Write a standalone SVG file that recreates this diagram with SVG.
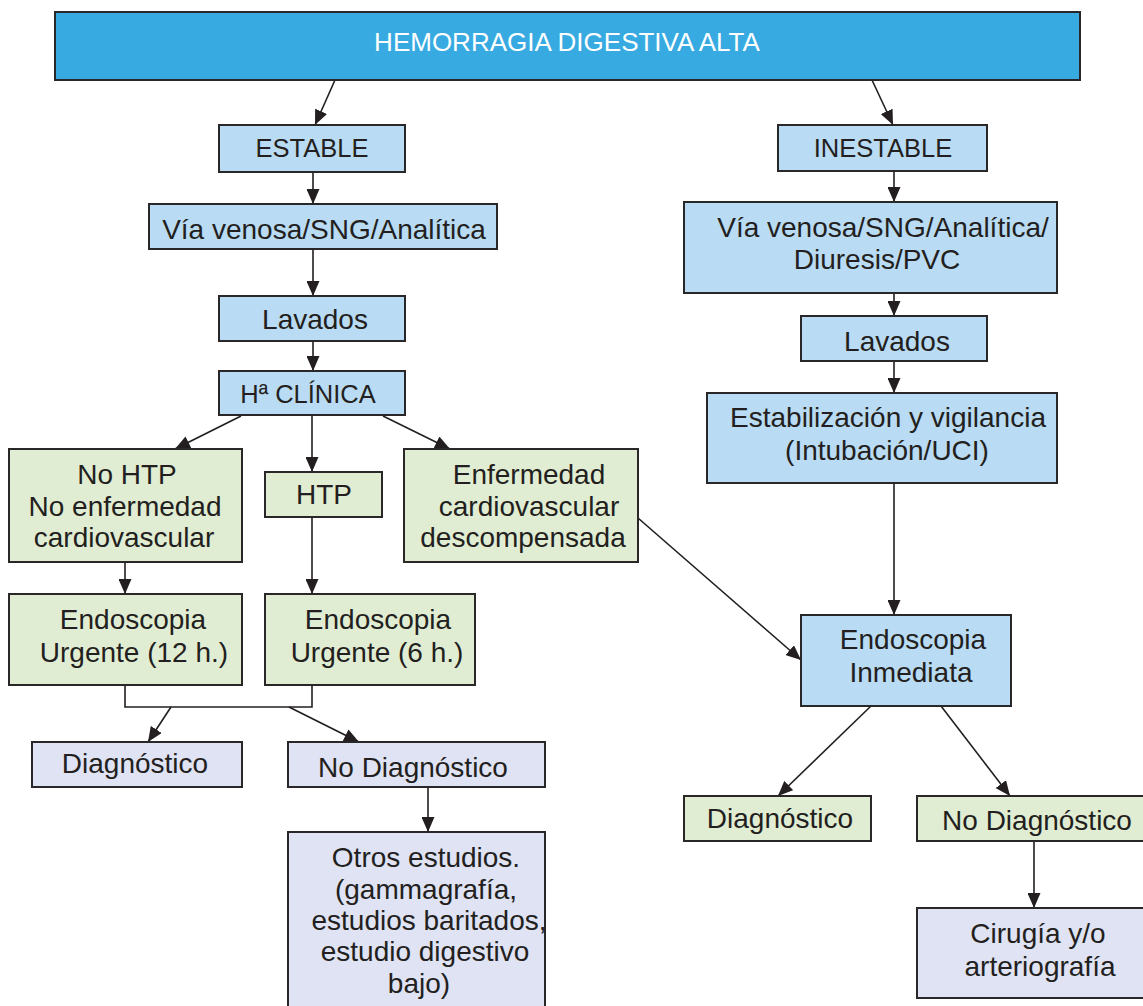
<svg xmlns="http://www.w3.org/2000/svg" width="1143" height="1006" viewBox="0 0 1143 1006">
  <style>
    .box { stroke: #2a2728; stroke-width: 2; }
    .top { fill: #37aae1; }
    .blue { fill: #b9dbf3; }
    .green { fill: #e1edd3; }
    .lav { fill: #dfe3f3; }
    text { font-family: "Liberation Sans", Arial, sans-serif; font-size: 28px; fill: #231f20; text-anchor: middle; }
    .cap { font-size: 25.5px; }
    .head { font-size: 26px; fill: #ffffff; }
    .link { fill: none; stroke: #231f20; stroke-width: 1.6; }
  </style>
  <defs>
    <marker id="arrow" markerUnits="userSpaceOnUse" markerWidth="16" markerHeight="13" refX="15" refY="6.5" orient="auto">
      <path d="M0,0 L15,6.5 L0,13 Z" fill="#231f20"/>
    </marker>
  </defs>

  <rect width="1143" height="1006" fill="#ffffff"/>

  <!-- connectors -->
  <g id="connectors">
    <line class="link" x1="335" y1="80" x2="315" y2="125" marker-end="url(#arrow)"/>
    <line class="link" x1="872" y1="80" x2="893" y2="125" marker-end="url(#arrow)"/>
    <line class="link" x1="313" y1="172" x2="313" y2="204" marker-end="url(#arrow)"/>
    <line class="link" x1="313" y1="249" x2="313" y2="296" marker-end="url(#arrow)"/>
    <line class="link" x1="313" y1="341" x2="313" y2="371" marker-end="url(#arrow)"/>
    <line class="link" x1="241" y1="416" x2="175" y2="449" marker-end="url(#arrow)"/>
    <line class="link" x1="312" y1="415" x2="312" y2="472" marker-end="url(#arrow)"/>
    <line class="link" x1="383" y1="416" x2="450" y2="449" marker-end="url(#arrow)"/>
    <line class="link" x1="125" y1="562" x2="125" y2="594" marker-end="url(#arrow)"/>
    <line class="link" x1="312" y1="517" x2="312" y2="594" marker-end="url(#arrow)"/>
    <path class="link" d="M125,685 V707 H312 V685"/>
    <line class="link" x1="171" y1="707" x2="148" y2="742" marker-end="url(#arrow)"/>
    <line class="link" x1="289" y1="707" x2="359" y2="742" marker-end="url(#arrow)"/>
    <line class="link" x1="428" y1="787" x2="428" y2="832" marker-end="url(#arrow)"/>
    <line class="link" x1="638" y1="518" x2="801" y2="660" marker-end="url(#arrow)"/>
    <line class="link" x1="894" y1="171" x2="894" y2="202" marker-end="url(#arrow)"/>
    <line class="link" x1="894" y1="293" x2="894" y2="316" marker-end="url(#arrow)"/>
    <line class="link" x1="894" y1="361" x2="894" y2="393" marker-end="url(#arrow)"/>
    <line class="link" x1="894" y1="483" x2="894" y2="615" marker-end="url(#arrow)"/>
    <line class="link" x1="871" y1="706" x2="778" y2="796" marker-end="url(#arrow)"/>
    <line class="link" x1="941" y1="706" x2="1010" y2="796" marker-end="url(#arrow)"/>
    <line class="link" x1="1034" y1="841" x2="1034" y2="908" marker-end="url(#arrow)"/>
  </g>

  <g id="hda">
    <rect class="box top" x="55" y="12" width="1025" height="68"/>
    <text class="head" x="567" y="51">HEMORRAGIA DIGESTIVA ALTA</text>
  </g>

  <!-- stable branch -->
  <g id="estable">
    <rect class="box blue" x="219" y="125" width="186" height="47"/>
    <text class="cap" x="312" y="157">ESTABLE</text>
  </g>
  <g id="via-estable">
    <rect class="box blue" x="149" y="204" width="348" height="45"/>
    <text x="324" y="239">Vía venosa/SNG/Analítica</text>
  </g>
  <g id="lavados-estable">
    <rect class="box blue" x="219" y="296" width="186" height="45"/>
    <text x="315" y="329">Lavados</text>
  </g>
  <g id="historia">
    <rect class="box blue" x="219" y="371" width="186" height="44"/>
    <text class="cap" x="308" y="403">Hª CLÍNICA</text>
  </g>
  <g id="no-htp">
    <rect class="box green" x="9" y="449" width="233" height="113"/>
    <text x="127" y="484">No HTP</text>
    <text x="125" y="516">No enfermedad</text>
    <text x="124" y="547">cardiovascular</text>
  </g>
  <g id="htp">
    <rect class="box green" x="265" y="472" width="117" height="45"/>
    <text x="324" y="504">HTP</text>
  </g>
  <g id="cardio">
    <rect class="box green" x="404" y="449" width="234" height="113"/>
    <text x="529" y="484">Enfermedad</text>
    <text x="529" y="516">cardiovascular</text>
    <text x="523" y="547">descompensada</text>
  </g>
  <g id="endo-12">
    <rect class="box green" x="9" y="594" width="233" height="91"/>
    <text x="133" y="629">Endoscopia</text>
    <text x="134" y="662">Urgente (12 h.)</text>
  </g>
  <g id="endo-6">
    <rect class="box green" x="265" y="594" width="210" height="91"/>
    <text x="378" y="629">Endoscopia</text>
    <text x="377" y="662">Urgente (6 h.)</text>
  </g>
  <g id="diag-estable">
    <rect class="box lav" x="32" y="742" width="210" height="45"/>
    <text x="135" y="773">Diagnóstico</text>
  </g>
  <g id="nodiag-estable">
    <rect class="box lav" x="288" y="742" width="257" height="45"/>
    <text x="413" y="777">No Diagnóstico</text>
  </g>
  <g id="otros">
    <rect class="box lav" x="288" y="832" width="257" height="180"/>
    <text x="426" y="867">Otros estudios.</text>
    <text x="426" y="899">(gammagrafía,</text>
    <text x="429" y="930">estudios baritados,</text>
    <text x="425" y="961">estudio digestivo</text>
    <text x="419" y="993">bajo)</text>
  </g>

  <!-- unstable branch -->
  <g id="inestable">
    <rect class="box blue" x="778" y="125" width="209" height="46"/>
    <text class="cap" x="883" y="157">INESTABLE</text>
  </g>
  <g id="via-inestable">
    <rect class="box blue" x="684" y="202" width="373" height="91"/>
    <text x="883" y="237">Vía venosa/SNG/Analítica/</text>
    <text x="877" y="269">Diuresis/PVC</text>
  </g>
  <g id="lavados-inestable">
    <rect class="box blue" x="801" y="316" width="186" height="45"/>
    <text x="897" y="351">Lavados</text>
  </g>
  <g id="estabilizacion">
    <rect class="box blue" x="707" y="393" width="350" height="90"/>
    <text x="888" y="427">Estabilización y vigilancia</text>
    <text x="887" y="460">(Intubación/UCI)</text>
  </g>
  <g id="endo-inmediata">
    <rect class="box blue" x="801" y="615" width="210" height="91"/>
    <text x="913" y="649">Endoscopia</text>
    <text x="911" y="682">Inmediata</text>
  </g>
  <g id="diag-inestable">
    <rect class="box green" x="684" y="796" width="187" height="45"/>
    <text x="780" y="828">Diagnóstico</text>
  </g>
  <g id="nodiag-inestable">
    <rect class="box green" x="917" y="796" width="240" height="45"/>
    <text x="1037" y="830">No Diagnóstico</text>
  </g>
  <g id="cirugia">
    <rect class="box lav" x="917" y="908" width="240" height="90"/>
    <text x="1038" y="943">Cirugía y/o</text>
    <text x="1040" y="976">arteriografía</text>
  </g>
</svg>
